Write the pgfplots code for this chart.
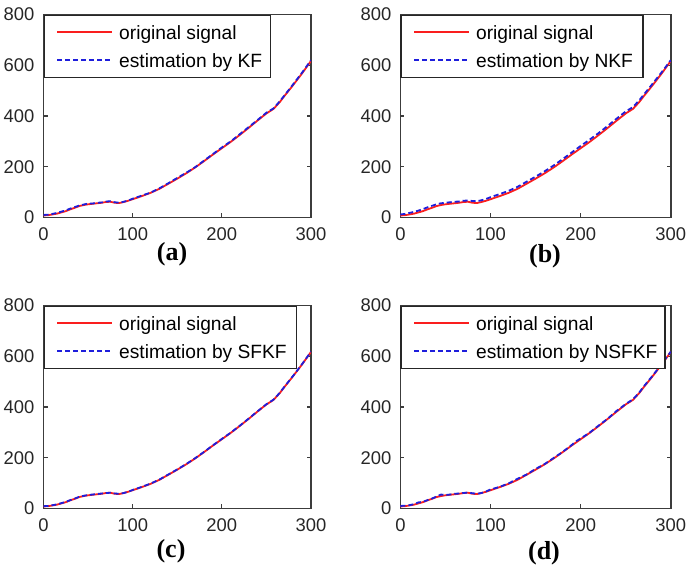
\documentclass[border=0pt]{standalone}
\usepackage{fontspec}
\setmainfont{Liberation Serif}
\setsansfont{Liberation Sans}
\usepackage{pgfplots}
\pgfplotsset{compat=1.18}
\definecolor{sigred}{RGB}{250,30,30}
\definecolor{estblue}{RGB}{30,30,220}
\definecolor{axgray}{RGB}{60,60,60}

\pgfplotstableread{
t y
0 8
5 9
10 12
15 15
20 20
25 25
30 32
35 38
40 45
45 49
50 52
55 54
60 56
65 58
70 61
75 62
80 58
85 57
90 61
95 66
100 72
110 84
120 97
130 113
140 133
150 153
160 174
170 197
180 222
190 248
200 273
210 298
220 325
230 353
240 382
250 410
258 428
265 455
270 478
280 522
290 568
300 617
}\orig

\pgfplotstableread{
t y
0 10
5 11
10 14
15 18
20 23
25 28
30 35
35 41
40 47
45 51
50 55
55 55
60 58
65 59
70 63
75 64
80 60
85 58
90 62
95 67
100 74
110 86
120 98
130 115
140 135
150 156
160 176
170 198
180 224
190 250
200 276
210 300
220 328
230 356
240 384
250 413
258 430
265 458
270 480
280 525
290 571
300 620
}\kf

\pgfplotstableread{
t y
0 12
5 14
10 18
15 22
20 27
25 33
30 40
35 46
40 52
45 56
50 58
55 60
60 62
65 63
70 66
75 67
80 65
85 64
90 68
95 73
100 80
110 92
120 105
130 121
140 141
150 161
160 182
170 205
180 230
190 256
200 282
210 307
220 333
230 361
240 390
250 418
258 435
265 462
270 484
280 528
290 573
300 620
}\nkf

\pgfplotstableread{
t y
0 9
5 10
10 13
15 16
20 21
25 26
30 33
35 39
40 46
45 50
50 53
55 55
60 57
65 59
70 61
75 62
80 59
85 58
90 61
95 66
100 73
110 85
120 98
130 114
140 134
150 154
160 175
170 198
180 223
190 249
200 274
210 299
220 326
230 354
240 383
250 411
258 429
265 456
270 479
280 523
290 569
300 618
}\sfkf

\pgfplotstableread{
t y
0 10
5 11
10 13
15 17
20 24
25 26
30 33
35 39
40 47
45 55
50 53
55 55
60 58
65 59
70 61
75 63
80 60
85 58
90 61
95 67
100 75
110 85
120 99
130 117
140 134
150 156
160 175
170 199
180 223
190 250
195 265
200 276
210 299
220 327
230 354
240 385
245 398
250 412
258 430
265 457
270 481
280 524
290 570
300 618
}\nsfkf

\pgfplotsset{
  panel/.style={
    scale only axis, anchor=south west,
    xmin=0, xmax=300, ymin=0, ymax=800,
    xtick={0,100,200,300}, ytick={0,200,400,600,800},
    tick align=inside, major tick length=2pt,
    axis line style={axgray, line width=0.8pt},
    tick style={axgray, line width=0.6pt},
    ticklabel style={font=\sffamily\fontsize{9.2}{10}\selectfont, text=black!85},
    /pgf/number format/assume math mode=true,
    yticklabel style={xshift=-1pt},
    xticklabel style={yshift=-1.5pt},
    legend cell align=left,
    legend style={at={(0,1)}, anchor=north west, draw=black!85, line width=0.7pt,
      inner xsep=0pt, inner ysep=2pt, row sep=1pt,
      font=\sffamily\fontsize{9.6}{10}\selectfont,
      nodes={inner sep=0pt, text height=10.1pt, text depth=2.9pt}},
    legend image code/.code={\path[draw=none,fill=none] (0pt,0pt) -- (37.5pt,0pt); \draw[##1] (6.5pt,0pt) -- (34pt,0pt);},
  },
  sig/.style={sigred, line width=0.9pt},
  est/.style={estblue, line width=0.9pt, dash pattern=on 2.5pt off 1.5pt},
}

\begin{document}
\begin{tikzpicture}
\useasboundingbox (0,0) rectangle (343pt,282.5pt);

\begin{axis}[panel, at={(21.75pt,173.75pt)}, width=133.75pt, height=101.5pt]
\addplot[sig] table[x=t,y=y] {\orig};
\addlegendentry{original signal}
\addplot[est] table[x=t,y=y] {\kf};
\addlegendentry{\makebox[75.5pt][l]{estimation by KF}}
\end{axis}

\begin{axis}[panel, at={(200.2pt,173.75pt)}, width=135.2pt, height=101.5pt]
\addplot[sig] table[x=t,y=y] {\orig};
\addlegendentry{original signal}
\addplot[est] table[x=t,y=y] {\nkf};
\addlegendentry{\makebox[83.5pt][l]{estimation by NKF}}
\end{axis}

\begin{axis}[panel, at={(21.75pt,28.25pt)}, width=133.75pt, height=101.5pt]
\addplot[sig] table[x=t,y=y] {\orig};
\addlegendentry{original signal}
\addplot[est] table[x=t,y=y] {\sfkf};
\addlegendentry{\makebox[88.5pt][l]{estimation by SFKF}}
\end{axis}

\begin{axis}[panel, at={(200.2pt,28.25pt)}, width=135.2pt, height=101.5pt]
\addplot[sig] table[x=t,y=y] {\orig};
\addlegendentry{original signal}
\addplot[est] table[x=t,y=y] {\nsfkf};
\addlegendentry{\makebox[94.5pt][l]{estimation by NSFKF}}
\end{axis}

\node[font=\bfseries\fontsize{13}{14}\selectfont] at (86pt,155.5pt) {(a)};
\node[font=\bfseries\fontsize{13}{14}\selectfont] at (272.5pt,154.5pt) {(b)};
\node[font=\bfseries\fontsize{13}{14}\selectfont] at (85.5pt,7pt) {(c)};
\node[font=\bfseries\fontsize{13}{14}\selectfont] at (272pt,6pt) {(d)};
\end{tikzpicture}
\end{document}
